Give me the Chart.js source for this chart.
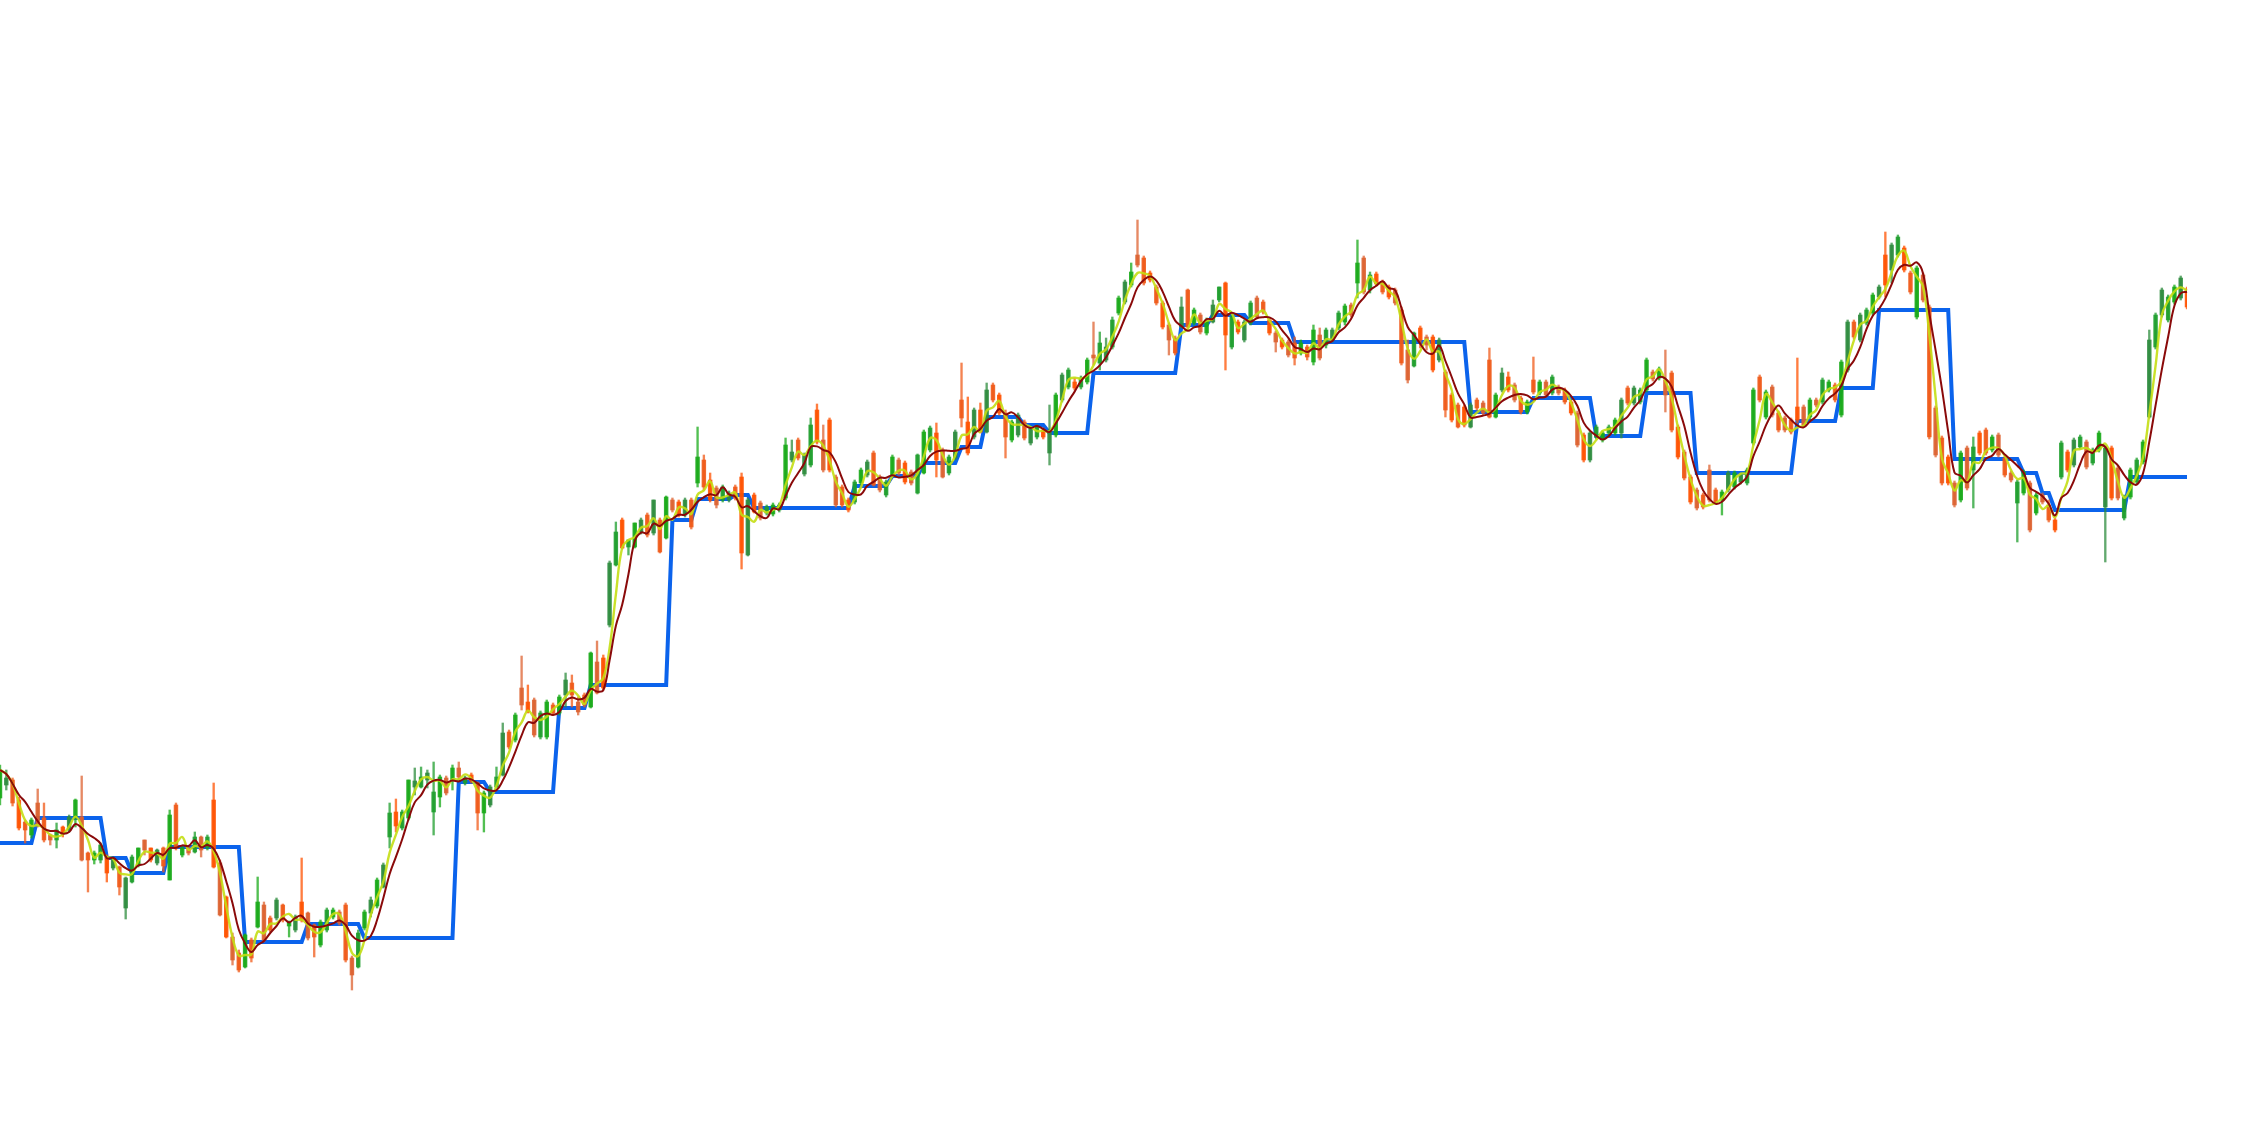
<!DOCTYPE html>
<html>
<head>
<meta charset="utf-8">
<script src="https://cdn.jsdelivr.net/npm/chart.js@4.4.1/dist/chart.umd.min.js"></script>
<style>
  html, body { margin: 0; padding: 0; background: #fff; }
  .wrap { width: 2268px; height: 1148px; }
</style>
</head>
<body>
<div class="wrap"><canvas id="chart"></canvas></div>
<script>
// OHLC per session
const opens = [
  302,315,320,300,278,265,297,282,265,260,
  273,270,282,283,247,240,240,243,232,233,
  192,218,235,260,252,237,252,220,295,245,
  252,248,263,252,300,237,203,163,147,133,
  160,173,195,182,182,195,174,170,198,187,
  175,155,170,183,188,195,142,133,172,187,
  194,213,263,288,272,282,313,313,320,288,
  303,322,320,332,317,325,317,287,295,313,
  325,368,360,412,398,400,363,363,395,387,
  405,417,398,405,393,438,442,475,535,580,
  553,553,568,585,567,580,562,600,598,585,
  600,617,640,620,612,600,600,613,623,545,
  605,597,587,586,590,602,640,660,626,635,
  690,660,680,623,613,600,598,617,625,647,
  623,605,625,640,637,628,607,627,650,667,
  650,627,642,700,678,663,690,668,715,705,
  687,660,665,678,657,663,670,647,665,700,
  713,718,713,718,745,737,740,753,787,798,
  815,845,842,827,813,797,775,762,773,810,
  777,785,767,778,800,817,753,778,760,777,
  802,798,780,767,760,758,757,747,753,738,
  765,755,760,772,778,795,817,842,810,826,
  818,813,810,790,750,734,772,763,763,740,
  728,705,695,693,673,700,697,740,683,710,
  723,715,702,688,720,707,718,707,713,710,
  698,687,665,640,663,660,667,667,667,712,
  697,698,710,728,722,720,727,673,648,623,
  610,605,630,610,600,610,613,618,617,657,
  723,683,713,687,682,680,693,693,683,700,
  698,710,715,685,730,778,760,777,787,803,
  845,830,845,852,827,783,825,793,692,662,
  643,617,600,652,630,667,670,650,665,642,
  627,597,607,617,587,605,595,580,623,648,
  635,653,658,637,650,593,652,632,582,603,
  618,638,683,753,785,780,798,802,811
];
const highs = [
  335,330,322,303,280,282,311,297,266,277,
  274,285,301,324,248,249,257,245,243,234,
  223,245,252,260,252,251,253,290,297,254,
  253,268,264,265,317,240,204,167,150,166,
  162,223,198,184,202,196,179,185,242,188,
  176,180,192,192,190,197,144,170,190,203,
  222,237,297,301,290,320,332,333,330,338,
  325,324,335,338,324,327,318,309,315,333,
  377,370,387,444,415,402,389,400,397,405,
  427,425,403,407,448,459,445,539,578,582,
  560,577,582,587,600,582,604,602,600,602,
  602,673,645,627,614,615,609,615,627,602,
  607,599,595,597,597,662,660,662,647,682,
  696,675,682,625,615,602,620,632,640,649,
  625,620,645,642,639,630,646,670,674,677,
  652,645,670,737,703,692,697,717,717,707,
  690,680,687,680,674,675,672,695,707,727,
  732,722,724,742,778,768,762,783,804,820,
  837,880,844,829,815,799,777,764,803,811,
  792,787,782,800,813,818,785,780,780,799,
  804,800,782,769,762,760,763,760,755,775,
  772,772,772,789,796,797,860,844,828,828,
  820,815,812,793,760,768,774,765,765,762,
  730,707,697,695,697,702,699,752,707,732,
  728,717,704,700,743,720,720,725,715,712,
  700,689,667,669,675,669,675,682,702,714,
  714,712,742,730,733,750,729,675,650,625,
  612,607,635,612,610,629,629,627,632,712,
  725,710,715,689,684,682,742,695,702,702,
  722,720,717,740,780,780,787,792,807,815,
  868,857,865,854,829,834,827,795,694,664,
  645,619,649,654,663,669,672,665,667,644,
  629,620,630,619,607,607,600,582,659,650,
  662,665,660,652,669,654,654,634,605,632,
  642,660,770,787,812,805,815,824,813
];
const lows = [
  295,310,294,270,257,262,273,258,255,252,
  263,268,273,239,208,236,237,218,230,205,
  181,217,233,245,238,235,228,220,250,243,
  245,247,243,250,232,184,162,135,128,132,
  138,172,158,168,180,178,163,168,178,160,
  143,153,168,181,175,138,110,132,170,183,
  192,212,252,268,270,280,305,312,312,265,
  293,305,310,320,315,317,270,268,293,312,
  324,351,358,390,387,363,361,361,385,385,
  393,393,385,393,392,406,410,473,534,551,
  545,552,566,563,565,547,561,588,583,583,
  571,613,610,598,592,598,598,600,531,544,
  587,580,585,584,588,600,638,640,624,633,
  656,628,628,593,593,588,596,615,623,614,
  608,603,623,625,616,615,606,626,648,623,
  622,625,640,673,645,661,667,667,698,685,
  642,658,663,660,655,661,661,635,663,698,
  711,710,711,716,735,730,738,751,785,796,
  813,833,815,818,795,771,745,745,772,772,
  775,766,765,777,798,730,751,766,758,775,
  782,786,765,748,751,743,735,745,740,735,
  740,752,758,770,775,783,802,806,807,814,
  806,801,795,735,717,733,752,750,728,738,
  683,678,672,673,672,690,685,682,682,708,
  708,698,686,686,706,705,703,705,705,696,
  685,653,638,638,661,658,665,665,662,695,
  695,696,708,719,720,688,668,641,620,596,
  590,591,598,596,585,608,611,616,615,655,
  698,681,683,668,668,666,677,673,681,693,
  696,708,698,683,728,761,758,775,785,801,
  803,817,843,828,806,781,798,661,643,615,
  615,593,598,610,592,645,645,648,643,623,
  618,558,605,568,585,596,578,568,621,628,
  633,651,631,635,648,538,600,600,580,601,
  616,636,682,751,783,778,796,800,791
];
const closes = [
  330,322,297,272,270,280,275,260,260,270,
  267,283,300,240,240,247,255,227,242,213,
  222,243,252,250,240,250,234,285,252,252,
  247,263,250,263,233,185,163,140,130,165,
  142,198,160,170,200,180,178,183,180,162,
  163,178,190,190,177,140,125,167,188,200,
  220,235,287,274,288,320,319,323,327,308,
  323,307,332,323,322,319,287,307,313,323,
  367,353,385,395,388,365,387,398,387,403,
  420,405,388,395,447,407,412,537,568,552,
  560,577,580,565,600,548,603,590,585,600,
  573,643,613,600,595,613,607,602,547,600,
  588,582,593,595,595,655,648,642,645,675,
  658,630,630,595,595,590,618,630,638,615,
  610,618,643,627,618,617,645,668,672,640,
  623,643,668,682,647,690,668,710,700,687,
  663,678,685,662,672,673,663,670,705,725,
  730,712,722,740,742,757,753,780,802,818,
  828,835,817,820,797,773,760,747,793,773,
  790,768,780,795,813,765,783,768,778,797,
  783,788,767,758,753,745,742,757,743,770,
  742,770,770,787,794,785,837,808,825,816,
  808,803,797,737,720,767,760,755,730,760,
  690,680,673,675,695,692,687,683,705,727,
  710,700,688,698,708,718,705,723,707,698,
  687,655,640,667,673,667,673,680,700,697,
  712,710,740,721,731,705,670,643,622,598,
  592,593,600,598,608,627,627,625,630,710,
  700,708,685,670,670,668,680,675,700,695,
  720,718,700,738,778,763,785,790,805,813,
  815,855,863,830,808,832,800,663,645,617,
  617,595,647,612,653,647,647,663,645,625,
  620,618,628,570,605,598,580,570,657,630,
  660,663,633,650,667,652,602,602,603,630,
  640,658,760,785,810,803,813,822,793
];

// blue support level: session where each level starts, and the level
const levelStarts = [0,6,17,21,27,39,49,58,73,78,89,94,107,111,117,120,136,142,147,153,
  157,163,167,174,188,193,199,206,234,244,254,262,270,286,293,299,311,322,325,327,339];
const levelValues = [257,282,242,227,253,158,176,162,318,308,392,415,580,601,605,592,614,624,637,653,
  683,675,667,727,775,785,777,758,688,702,664,707,627,679,712,790,641,627,607,590,623];

if (highs.length !== opens.length || lows.length !== opens.length || closes.length !== opens.length) {
  throw new Error('length mismatch ' + [opens.length, highs.length, lows.length, closes.length].join(','));
}

const labels = opens.map((_, i) => i);

const levels = labels.map(i => {
  let k = 0;
  while (k + 1 < levelStarts.length && levelStarts[k + 1] <= i) k++;
  return levelValues[k];
});

// moving averages of the closes (3 and 5 sessions)
const sma = (arr, n) => arr.map((_, i) => {
  const from = Math.max(0, i - n + 1);
  const part = arr.slice(from, i + 1);
  return part.reduce((a, b) => a + b, 0) / part.length;
});
const slowLine = sma(closes, 5);
const fastLine = sma(closes, 3);

const bodies = closes.map((c, i) => {
  const lo = Math.min(opens[i], c);
  let hi = Math.max(opens[i], c);
  if (hi - lo < 2) hi = lo + 2;
  return [lo, hi];
});
const wicks = highs.map((h, i) => [lows[i], h]);

const greenShades = ['24,170,24', '46,140,62', '30,158,44'];
const orangeShades = ['255,82,0', '221,98,48', '240,90,24'];
const shadeOf = i => (i * 7 + (i >> 2)) % 3;
const candleColor = (i, a) => {
  const up = closes[i] >= opens[i];
  const rgb = up ? greenShades[shadeOf(i)] : orangeShades[shadeOf(i)];
  return 'rgba(' + rgb + ',' + a + ')';
};

const ctx = document.getElementById('chart').getContext('2d');
new Chart(ctx, {
  type: 'bar',
  data: {
    labels: labels,
    datasets: [
      {
        type: 'line',
        data: levels,
        borderColor: '#0b63ec',
        borderWidth: 4,
        pointRadius: 0,
        tension: 0,
        order: 5
      },
      {
        data: wicks,
        backgroundColor: labels.map(i => candleColor(i, 0.75)),
        barThickness: 1.7,
        grouped: false,
        order: 4
      },
      {
        data: bodies,
        backgroundColor: labels.map(i => candleColor(i, 0.9)),
        barThickness: 3.8,
        grouped: false,
        order: 3
      },
      {
        type: 'line',
        data: fastLine,
        borderColor: 'rgba(196,222,20,0.9)',
        borderWidth: 2.4,
        pointRadius: 0,
        tension: 0.4,
        order: 2
      },
      {
        type: 'line',
        data: slowLine,
        borderColor: '#8a0a0a',
        borderWidth: 2,
        pointRadius: 0,
        tension: 0.4,
        order: 1
      }
    ]
  },
  options: {
    responsive: true,
    maintainAspectRatio: false,
    animation: false,
    events: [],
    layout: { padding: { left: 0, right: 81, top: 0, bottom: 0 } },
    plugins: {
      legend: { display: false },
      tooltip: { enabled: false }
    },
    scales: {
      x: { display: false, offset: false, grid: { offset: false } },
      y: { display: false, min: -48, max: 1100 }
    }
  }
});
</script>
</body>
</html>
